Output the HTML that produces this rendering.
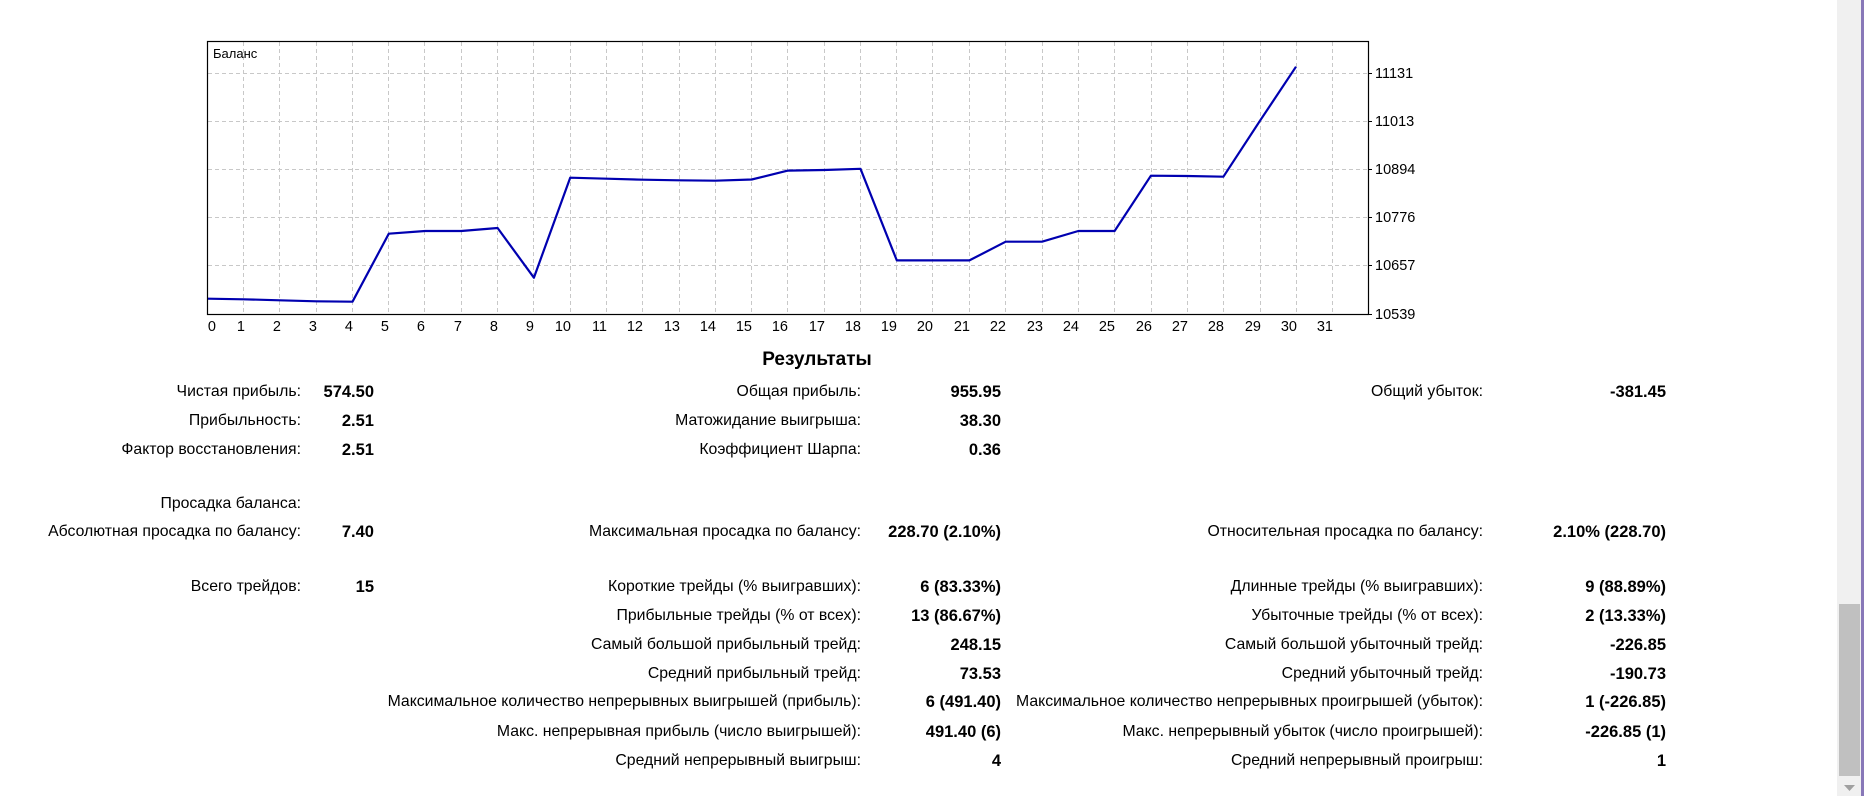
<!DOCTYPE html>
<html><head><meta charset="utf-8"><style>
html,body{margin:0;padding:0;background:#fff;}
body{width:1864px;height:796px;position:relative;overflow:hidden;font-family:"Liberation Sans","DejaVu Sans",sans-serif;color:#000;}
.t{position:absolute;height:20px;line-height:20px;font-size:15.8px;white-space:nowrap;text-align:right;}
.b{font-weight:bold;font-size:16.5px;}
</style></head><body>
<svg width="1864" height="796" style="position:absolute;left:0;top:0" xmlns="http://www.w3.org/2000/svg">
<g stroke="#c8c8c8" stroke-width="1" stroke-dasharray="4,3">
<line x1="208" y1="73.5" x2="1368" y2="73.5"/><line x1="208" y1="121.5" x2="1368" y2="121.5"/><line x1="208" y1="169.5" x2="1368" y2="169.5"/><line x1="208" y1="217.5" x2="1368" y2="217.5"/><line x1="208" y1="265.5" x2="1368" y2="265.5"/>
<line x1="243.5" y1="42" x2="243.5" y2="314"/><line x1="279.5" y1="42" x2="279.5" y2="314"/><line x1="316.5" y1="42" x2="316.5" y2="314"/><line x1="352.5" y1="42" x2="352.5" y2="314"/><line x1="388.5" y1="42" x2="388.5" y2="314"/><line x1="424.5" y1="42" x2="424.5" y2="314"/><line x1="461.5" y1="42" x2="461.5" y2="314"/><line x1="497.5" y1="42" x2="497.5" y2="314"/><line x1="533.5" y1="42" x2="533.5" y2="314"/><line x1="570.5" y1="42" x2="570.5" y2="314"/><line x1="606.5" y1="42" x2="606.5" y2="314"/><line x1="642.5" y1="42" x2="642.5" y2="314"/><line x1="679.5" y1="42" x2="679.5" y2="314"/><line x1="715.5" y1="42" x2="715.5" y2="314"/><line x1="751.5" y1="42" x2="751.5" y2="314"/><line x1="787.5" y1="42" x2="787.5" y2="314"/><line x1="824.5" y1="42" x2="824.5" y2="314"/><line x1="860.5" y1="42" x2="860.5" y2="314"/><line x1="896.5" y1="42" x2="896.5" y2="314"/><line x1="932.5" y1="42" x2="932.5" y2="314"/><line x1="969.5" y1="42" x2="969.5" y2="314"/><line x1="1005.5" y1="42" x2="1005.5" y2="314"/><line x1="1042.5" y1="42" x2="1042.5" y2="314"/><line x1="1078.5" y1="42" x2="1078.5" y2="314"/><line x1="1114.5" y1="42" x2="1114.5" y2="314"/><line x1="1151.5" y1="42" x2="1151.5" y2="314"/><line x1="1187.5" y1="42" x2="1187.5" y2="314"/><line x1="1223.5" y1="42" x2="1223.5" y2="314"/><line x1="1260.5" y1="42" x2="1260.5" y2="314"/><line x1="1296.5" y1="42" x2="1296.5" y2="314"/><line x1="1332.5" y1="42" x2="1332.5" y2="314"/>
</g>
<rect x="207.5" y="41.5" width="1161" height="273" fill="none" stroke="#000" stroke-width="1.2"/>
<g stroke="#000" stroke-width="1">
<line x1="1368" y1="73.5" x2="1372" y2="73.5"/><line x1="1368" y1="121.5" x2="1372" y2="121.5"/><line x1="1368" y1="169.5" x2="1372" y2="169.5"/><line x1="1368" y1="217.5" x2="1372" y2="217.5"/><line x1="1368" y1="265.5" x2="1372" y2="265.5"/><line x1="1368" y1="314.5" x2="1372" y2="314.5"/>
</g>
<polyline fill="none" stroke="#0000b0" stroke-width="2.2" stroke-linejoin="round" points="208,298.7 243.6,299.3 279.9,300.3 316.2,301.3 352.5,301.7 388.8,233.7 425.1,231 461.3,231 497.6,228 533.9,277.7 570.2,177.7 606.5,178.7 642.8,179.7 679.1,180.3 715.4,180.7 751.7,179.5 787.9,170.6 824.2,170 860.5,168.8 896.8,260.4 933.1,260.4 969.4,260.4 1005.7,241.7 1042,241.7 1078.3,231 1114.6,231 1150.9,175.7 1187.2,176 1223.4,176.7 1259.7,121.2 1296,66.7"/>
<g font-family="'Liberation Sans','DejaVu Sans',sans-serif" font-size="14.5" fill="#000">
<text x="213" y="58" font-size="13">Баланс</text>
<text x="1375" y="78">11131</text><text x="1375" y="126">11013</text><text x="1375" y="174">10894</text><text x="1375" y="222">10776</text><text x="1375" y="270">10657</text><text x="1375" y="319">10539</text>
<g text-anchor="end">
<text x="216" y="331">0</text><text x="245" y="331">1</text><text x="281" y="331">2</text><text x="317" y="331">3</text><text x="353" y="331">4</text><text x="389" y="331">5</text><text x="425" y="331">6</text><text x="462" y="331">7</text><text x="498" y="331">8</text><text x="534" y="331">9</text><text x="571" y="331">10</text><text x="607" y="331">11</text><text x="643" y="331">12</text><text x="680" y="331">13</text><text x="716" y="331">14</text><text x="752" y="331">15</text><text x="788" y="331">16</text><text x="825" y="331">17</text><text x="861" y="331">18</text><text x="897" y="331">19</text><text x="933" y="331">20</text><text x="970" y="331">21</text><text x="1006" y="331">22</text><text x="1043" y="331">23</text><text x="1079" y="331">24</text><text x="1115" y="331">25</text><text x="1152" y="331">26</text><text x="1188" y="331">27</text><text x="1224" y="331">28</text><text x="1261" y="331">29</text><text x="1297" y="331">30</text><text x="1333" y="331">31</text>
</g></g>
<rect x="1837" y="0" width="24" height="796" fill="#f0f0f0"/>
<rect x="1861" y="0" width="3" height="796" fill="#8878b8"/>
<rect x="1839" y="604" width="21" height="172" fill="#c0c0c0"/>
<polygon points="1844,785 1855,785 1849.5,791" fill="#a0a0a0"/>
</svg>
<div class="t b" style="left:717px;width:200px;text-align:center;top:348px;font-size:19px;height:24px;line-height:24px">Результаты</div>

<div class="t" style="right:1563px;top:382px">Чистая прибыль:</div><div class="t b" style="right:1490px;top:382px">574.50</div>
<div class="t" style="right:1563px;top:411px">Прибыльность:</div><div class="t b" style="right:1490px;top:411px">2.51</div>
<div class="t" style="right:1563px;top:440px">Фактор восстановления:</div><div class="t b" style="right:1490px;top:440px">2.51</div>
<div class="t" style="right:1563px;top:494px">Просадка баланса:</div>
<div class="t" style="right:1563px;top:522px">Абсолютная просадка по балансу:</div><div class="t b" style="right:1490px;top:522px">7.40</div>
<div class="t" style="right:1563px;top:577px">Всего трейдов:</div><div class="t b" style="right:1490px;top:577px">15</div>

<div class="t" style="right:1003px;top:382px">Общая прибыль:</div><div class="t b" style="right:863px;top:382px">955.95</div>
<div class="t" style="right:1003px;top:411px">Матожидание выигрыша:</div><div class="t b" style="right:863px;top:411px">38.30</div>
<div class="t" style="right:1003px;top:440px">Коэффициент Шарпа:</div><div class="t b" style="right:863px;top:440px">0.36</div>
<div class="t" style="right:1003px;top:522px">Максимальная просадка по балансу:</div><div class="t b" style="right:863px;top:522px">228.70 (2.10%)</div>
<div class="t" style="right:1003px;top:577px">Короткие трейды (% выигравших):</div><div class="t b" style="right:863px;top:577px">6 (83.33%)</div>
<div class="t" style="right:1003px;top:606px">Прибыльные трейды (% от всех):</div><div class="t b" style="right:863px;top:606px">13 (86.67%)</div>
<div class="t" style="right:1003px;top:635px">Самый большой прибыльный трейд:</div><div class="t b" style="right:863px;top:635px">248.15</div>
<div class="t" style="right:1003px;top:664px">Средний прибыльный трейд:</div><div class="t b" style="right:863px;top:664px">73.53</div>
<div class="t" style="right:1003px;top:692px">Максимальное количество непрерывных выигрышей (прибыль):</div><div class="t b" style="right:863px;top:692px">6 (491.40)</div>
<div class="t" style="right:1003px;top:722px">Макс. непрерывная прибыль (число выигрышей):</div><div class="t b" style="right:863px;top:722px">491.40 (6)</div>
<div class="t" style="right:1003px;top:751px">Средний непрерывный выигрыш:</div><div class="t b" style="right:863px;top:751px">4</div>

<div class="t" style="right:381px;top:382px">Общий убыток:</div><div class="t b" style="right:198px;top:382px">-381.45</div>
<div class="t" style="right:381px;top:522px">Относительная просадка по балансу:</div><div class="t b" style="right:198px;top:522px">2.10% (228.70)</div>
<div class="t" style="right:381px;top:577px">Длинные трейды (% выигравших):</div><div class="t b" style="right:198px;top:577px">9 (88.89%)</div>
<div class="t" style="right:381px;top:606px">Убыточные трейды (% от всех):</div><div class="t b" style="right:198px;top:606px">2 (13.33%)</div>
<div class="t" style="right:381px;top:635px">Самый большой убыточный трейд:</div><div class="t b" style="right:198px;top:635px">-226.85</div>
<div class="t" style="right:381px;top:664px">Средний убыточный трейд:</div><div class="t b" style="right:198px;top:664px">-190.73</div>
<div class="t" style="right:381px;top:692px">Максимальное количество непрерывных проигрышей (убыток):</div><div class="t b" style="right:198px;top:692px">1 (-226.85)</div>
<div class="t" style="right:381px;top:722px">Макс. непрерывный убыток (число проигрышей):</div><div class="t b" style="right:198px;top:722px">-226.85 (1)</div>
<div class="t" style="right:381px;top:751px">Средний непрерывный проигрыш:</div><div class="t b" style="right:198px;top:751px">1</div>
</body></html>
